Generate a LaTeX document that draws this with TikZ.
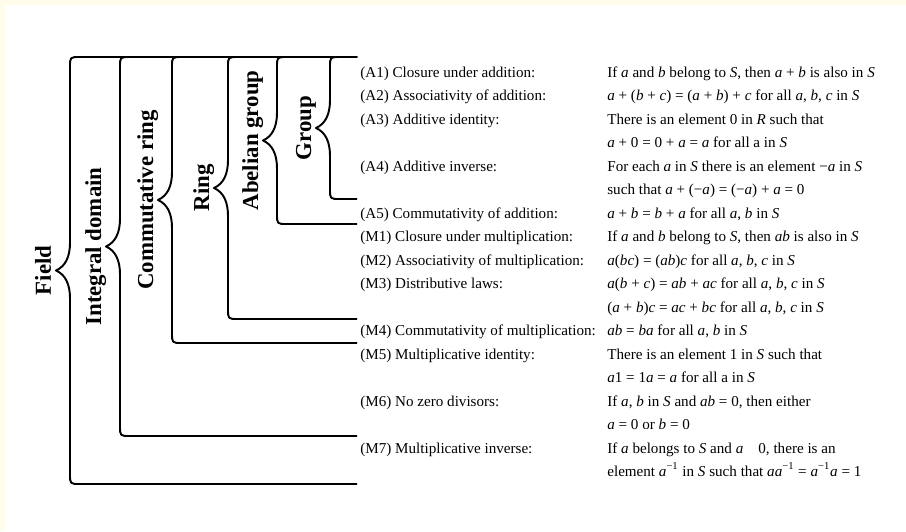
\documentclass[tikz,border=0pt]{standalone}
\usepackage{fontspec}
\setmainfont{Liberation Serif}
\usepackage{tikz}
\definecolor{cream}{RGB}{255,253,234}

\begin{document}
\begin{tikzpicture}[x=0.02cm,y=-0.02cm,
  rowtext/.style={anchor=base west,inner sep=0pt,font=\fontsize{8.6}{10}\selectfont},
  setname/.style={rotate=90,anchor=base,inner sep=0pt,font=\fontsize{13}{15}\selectfont\bfseries},
  brace line/.style={line width=1.1pt,line join=round}]
  \useasboundingbox (0,0) rectangle (906,531);
  \fill[white] (0,0) rectangle (906,531);
  \fill[cream] (0,0) rectangle (906,5);
  \fill[cream] (0,0) rectangle (5,531);

  % one brace per structure, all hanging from the top line
  \foreach \xv/\yb/\nm/\txt in {70/484/field/Field, 120/436/integral/Integral domain,
      172/343/commring/Commutative ring, 228/319/ring/Ring,
      277/224/abelian/Abelian group, 330/199/group/Group}{
    \pgfmathsetmacro\ym{(57+\yb)/2}
    \draw[brace line] (357,\yb) -- (\xv+10,\yb) .. controls (\xv,\yb) .. (\xv,\yb-10)
      -- (\xv,\ym+28) .. controls (\xv,\ym+13) and (\xv-5,\ym+4) .. (\xv-14,\ym)
      .. controls (\xv-5,\ym-4) and (\xv,\ym-13) .. (\xv,\ym-28)
      -- (\xv,67) .. controls (\xv,57) .. (\xv+10,57) -- (357,57);
    \coordinate (\nm-tip) at (\xv-14,\ym);
    \node[setname] (\nm) at (\xv-19,\ym) {\txt};
  }

  % axioms
  \node[rowtext] (A1) at (360,77) {(A1) Closure under addition:};
  \node[rowtext] (A2) at (360,100.5) {(A2) Associativity of addition:};
  \node[rowtext] (A3) at (360,124) {(A3) Additive identity:};
  \node[rowtext] (A4) at (360,171) {(A4) Additive inverse:};
  \node[rowtext] (A5) at (360,218) {(A5) Commutativity of addition:};
  \node[rowtext] (M1) at (360,241.5) {(M1) Closure under multiplication:};
  \node[rowtext] (M2) at (360,265) {(M2) Associativity of multiplication:};
  \node[rowtext] (M3) at (360,288.5) {(M3) Distributive laws:};
  \node[rowtext] (M4) at (360,335.5) {(M4) Commutativity of multiplication:};
  \node[rowtext] (M5) at (360,359) {(M5) Multiplicative identity:};
  \node[rowtext] (M6) at (360,406) {(M6) No zero divisors:};
  \node[rowtext] (M7) at (360,453) {(M7) Multiplicative inverse:};

  % what each axiom says
  \node[rowtext] (r0) at (607,77) {If \emph{a} and \emph{b} belong to \emph{S}, then \emph{a} + \emph{b} is also in \emph{S}};
  \node[rowtext] (r1) at (607,100.5) {\emph{a} + (\emph{b} + \emph{c}) = (\emph{a} + \emph{b}) + \emph{c} for all \emph{a}, \emph{b}, \emph{c} in \emph{S}};
  \node[rowtext] (r2) at (607,124) {There is an element 0 in \emph{R} such that};
  \node[rowtext] (r3) at (607,147.5) {\emph{a} + 0 = 0 + \emph{a} = \emph{a} for all a in \emph{S}};
  \node[rowtext] (r4) at (607,171) {For each \emph{a} in \emph{S} there is an element −\emph{a} in \emph{S}};
  \node[rowtext] (r5) at (607,194.5) {such that \emph{a} + (−\emph{a}) = (−\emph{a}) + \emph{a} = 0};
  \node[rowtext] (r6) at (607,218) {\emph{a} + \emph{b} = \emph{b} + \emph{a} for all \emph{a}, \emph{b} in \emph{S}};
  \node[rowtext] (r7) at (607,241.5) {If \emph{a} and \emph{b} belong to \emph{S}, then \emph{ab} is also in \emph{S}};
  \node[rowtext] (r8) at (607,265) {\emph{a}(\emph{bc}) = (\emph{ab})\emph{c} for all \emph{a}, \emph{b}, \emph{c} in \emph{S}};
  \node[rowtext] (r9) at (607,288.5) {\emph{a}(\emph{b} + \emph{c}) = \emph{ab} + \emph{ac} for all \emph{a}, \emph{b}, \emph{c} in \emph{S}};
  \node[rowtext] (r10) at (607,312) {(\emph{a} + \emph{b})\emph{c} = \emph{ac} + \emph{bc} for all \emph{a}, \emph{b}, \emph{c} in \emph{S}};
  \node[rowtext] (r11) at (607,335.5) {\emph{ab} = \emph{ba} for all \emph{a}, \emph{b} in \emph{S}};
  \node[rowtext] (r12) at (607,359) {There is an element 1 in \emph{S} such that};
  \node[rowtext] (r13) at (607,382.5) {\emph{a}1 = 1\emph{a} = \emph{a} for all a in \emph{S}};
  \node[rowtext] (r14) at (607,406) {If \emph{a}, \emph{b} in \emph{S} and \emph{ab} = 0, then either};
  \node[rowtext] (r15) at (607,429.5) {\emph{a} = 0 or \emph{b} = 0};
  \node[rowtext] (r16) at (607,453) {If \emph{a} belongs to \emph{S} and \emph{a}\hspace{1em}0, there is an};
  \node[rowtext] (r17) at (607,476.5) {element \emph{a}\textsuperscript{−1} in \emph{S} such that \emph{aa}\textsuperscript{−1} = \emph{a}\textsuperscript{−1}\emph{a} = 1};
\end{tikzpicture}
\end{document}
